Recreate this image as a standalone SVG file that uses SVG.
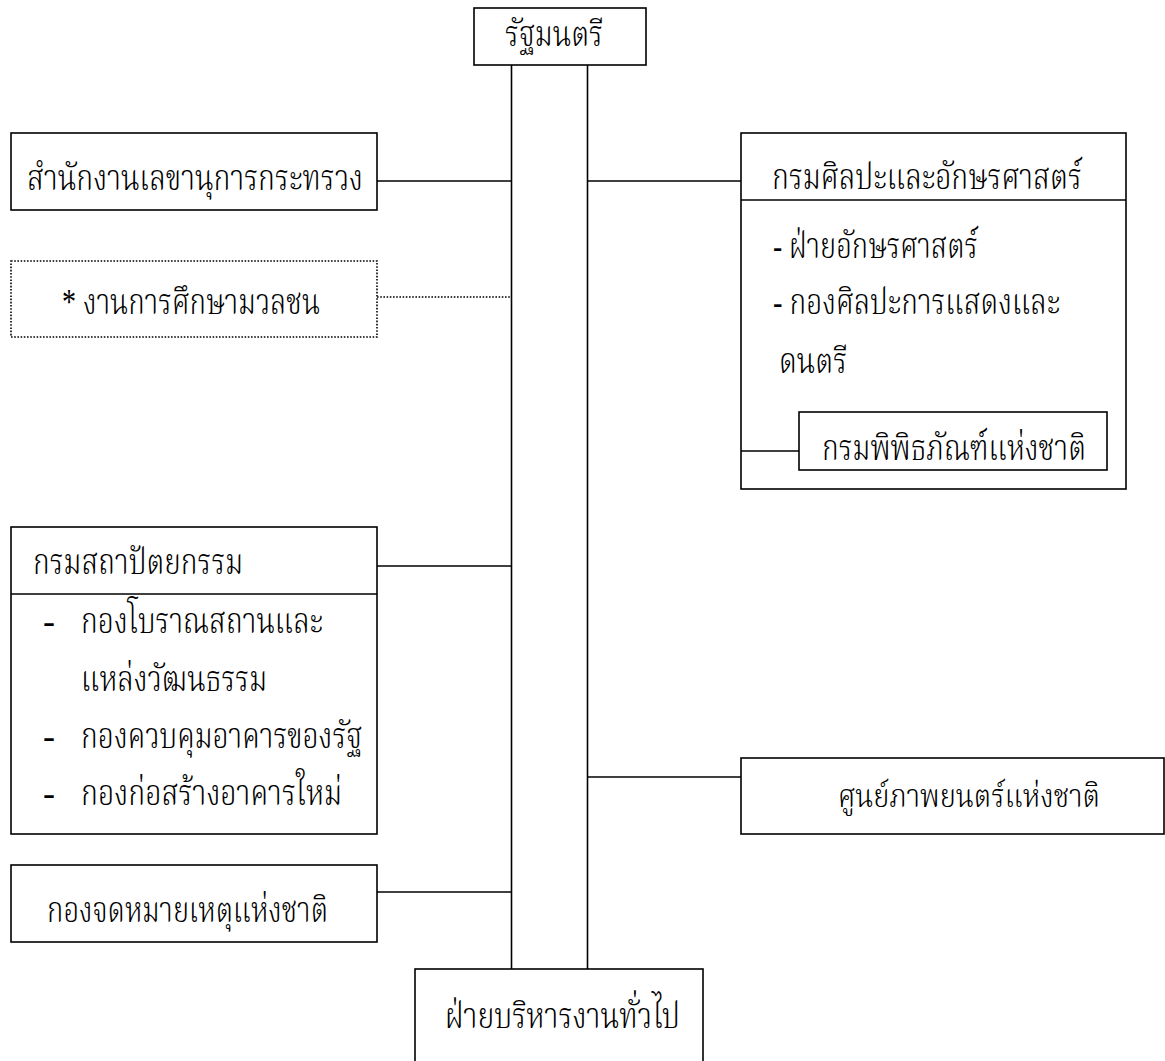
<svg xmlns="http://www.w3.org/2000/svg" width="1165" height="1061" viewBox="0 0 1165 1061">
<style>
.box{fill:#fff;stroke:#000;stroke-width:1.6}
.dot{fill:#fff;stroke:#000;stroke-width:1.6;stroke-dasharray:1.6 1.6}
.ln{stroke:#000;stroke-width:1.6;fill:none}
.dl{stroke:#000;stroke-width:1.6;fill:none;stroke-dasharray:1.6 1.6}
text{font-family:"Liberation Serif","Noto Serif Thai","Noto Sans Thai",serif;font-size:36px;font-weight:300;fill:#000}
.sm{font-size:33px}
</style>
<rect width="1165" height="1061" fill="#fff"/>
<g id="n-minister">
<rect class="box" x="474" y="8" width="172" height="57"/>
<text x="505" y="46" textLength="98" lengthAdjust="spacingAndGlyphs">รัฐมนตรี</text>
</g>
<g id="n-secretary">
<rect class="box" x="11" y="133" width="366" height="77"/>
<text x="27" y="190" textLength="336" lengthAdjust="spacingAndGlyphs">สำนักงานเลขานุการกระทรวง</text>
</g>
<g id="n-mass-edu">
<rect class="dot" x="11" y="261" width="366" height="76"/>
<text x="62" y="314" textLength="258" lengthAdjust="spacingAndGlyphs">* งานการศึกษามวลชน</text>
</g>
<g id="n-arch">
<rect class="box" x="11" y="527" width="366" height="307"/>
<line class="ln" x1="11" y1="594" x2="377" y2="594"/>
<text x="33" y="574" textLength="210" lengthAdjust="spacingAndGlyphs">กรมสถาปัตยกรรม</text>
<text x="43" y="633">-</text>
<text x="81" y="633" textLength="242" lengthAdjust="spacingAndGlyphs">กองโบราณสถานและ</text>
<text x="81" y="691" textLength="186" lengthAdjust="spacingAndGlyphs">แหล่งวัฒนธรรม</text>
<text x="43" y="748">-</text>
<text x="81" y="748" textLength="281" lengthAdjust="spacingAndGlyphs">กองควบคุมอาคารของรัฐ</text>
<text x="43" y="805">-</text>
<text x="81" y="805" textLength="261" lengthAdjust="spacingAndGlyphs">กองก่อสร้างอาคารใหม่</text>
</g>
<g id="n-archives">
<rect class="box" x="11" y="865" width="366" height="77"/>
<text x="47" y="922" textLength="281" lengthAdjust="spacingAndGlyphs">กองจดหมายเหตุแห่งชาติ</text>
</g>
<g id="n-fineart">
<rect class="box" x="741" y="133" width="385" height="356"/>
<line class="ln" x1="741" y1="200" x2="1126" y2="200"/>
<text x="772" y="189" textLength="310" lengthAdjust="spacingAndGlyphs">กรมศิลปะและอักษรศาสตร์</text>
<text x="773" y="258" textLength="205" lengthAdjust="spacingAndGlyphs">- ฝ่ายอักษรศาสตร์</text>
<text x="773" y="314" textLength="287" lengthAdjust="spacingAndGlyphs">- กองศิลปะการแสดงและ</text>
<text x="779" y="373" textLength="68" lengthAdjust="spacingAndGlyphs">ดนตรี</text>
</g>
<g id="n-museum">
<rect class="box" x="799" y="412" width="308" height="58"/>
<text x="822" y="460" textLength="264" lengthAdjust="spacingAndGlyphs">กรมพิพิธภัณฑ์แห่งชาติ</text>
</g>
<g id="n-film">
<rect class="box" x="741" y="758" width="423" height="76"/>
<text class="sm" x="838" y="807" textLength="262" lengthAdjust="spacingAndGlyphs">ศูนย์ภาพยนตร์แห่งชาติ</text>
</g>
<g id="n-admin">
<rect class="box" x="415" y="969" width="288" height="100"/>
<text x="445" y="1028" textLength="235" lengthAdjust="spacingAndGlyphs">ฝ่ายบริหารงานทั่วไป</text>
</g>
<g id="connectors">
<line class="ln" x1="511.5" y1="65" x2="511.5" y2="969"/>
<line class="ln" x1="587.5" y1="65" x2="587.5" y2="969"/>
<line class="ln" x1="377" y1="181" x2="511.5" y2="181"/>
<line class="dl" x1="377" y1="297" x2="511.5" y2="297"/>
<line class="ln" x1="377" y1="566" x2="511.5" y2="566"/>
<line class="ln" x1="377" y1="892" x2="511.5" y2="892"/>
<line class="ln" x1="587.5" y1="181" x2="741" y2="181"/>
<line class="ln" x1="587.5" y1="777" x2="741" y2="777"/>
<line class="ln" x1="741" y1="451" x2="799" y2="451"/>
</g>
</svg>
